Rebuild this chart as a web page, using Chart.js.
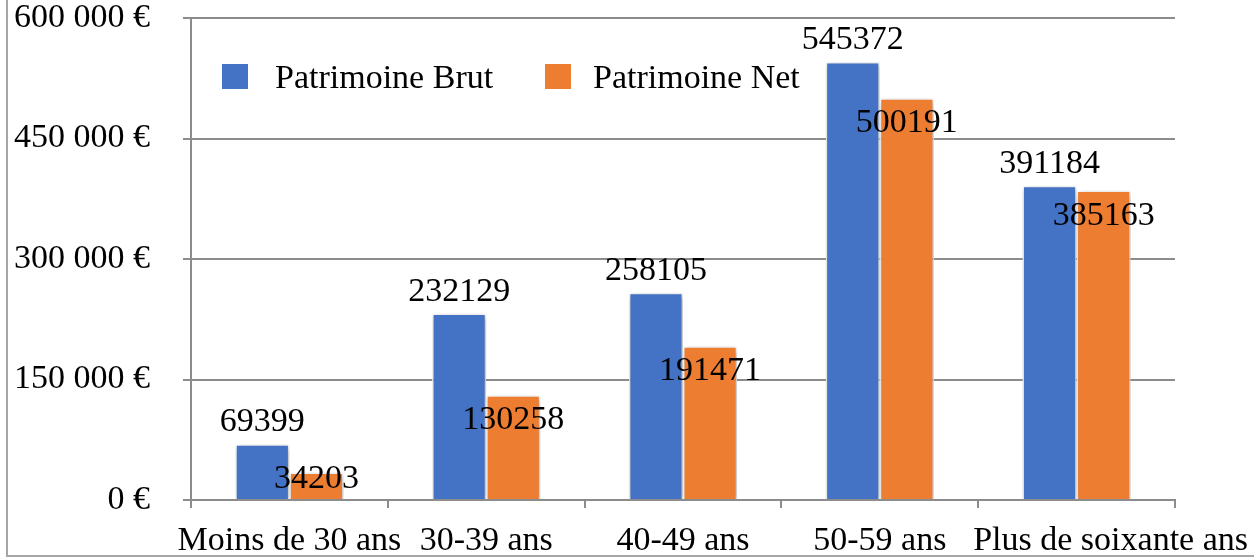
<!DOCTYPE html>
<html>
<head>
<meta charset="utf-8">
<script src="https://cdn.jsdelivr.net/npm/chart.js@4.4.0/dist/chart.umd.min.js"></script>
<style>
  html, body { margin: 0; padding: 0; background: #fff; overflow: hidden; }
  #wrap { position: relative; width: 1254px; height: 559px; }
  #frame { position: absolute; left: 6px; top: -4px; width: 1260px; height: 561px; border: 2px solid #a6a6a6; box-sizing: border-box; }
  canvas { position: absolute; left: 0; top: 0; }
</style>
</head>
<body>
<div id="wrap">
  <div id="frame"></div>
  <canvas id="chart" width="1254" height="559"></canvas>
</div>
<script>
// Patrimoine by age group
const categories = ['Moins de 30 ans', '30-39 ans', '40-49 ans', '50-59 ans', 'Plus de soixante ans'];
const brutValues = [69399, 232129, 258105, 545372, 391184];
const netValues = [34203, 130258, 191471, 500191, 385163];
const seriesNames = ['Patrimoine Brut', 'Patrimoine Net'];
const seriesColors = ['#4472C4', '#ED7D31'];

const FONT = 'Liberation Serif, Times New Roman, serif';
const FONT_SIZE = 34;
const AXIS_GREY = '#8c8c8c';

const fmtEuro = v => String(v).replace(/\B(?=(\d{3})+(?!\d))/g, ' ') + ' €';

// shadow under the bars
const barShadow = {
  id: 'barShadow',
  beforeDatasetsDraw(chart) {
    const ctx = chart.ctx;
    ctx.save();
    ctx.shadowColor = 'rgba(0,0,0,0.35)';
    ctx.shadowBlur = 6;
    ctx.shadowOffsetX = 1;
    ctx.shadowOffsetY = 2;
  },
  afterDatasetsDraw(chart) {
    chart.ctx.restore();
  }
};

// value labels, category labels + legend inside the plot
const labelsAndLegend = {
  id: 'labelsAndLegend',
  afterDraw(chart) {
    const ctx = chart.ctx;
    const xs = chart.scales.x;
    const base = chart.scales.y.getPixelForValue(0);
    ctx.save();
    ctx.font = FONT_SIZE + 'px ' + FONT;
    ctx.fillStyle = '#000';
    ctx.textAlign = 'center';
    ctx.textBaseline = 'alphabetic';
    chart.data.datasets.forEach((ds, di) => {
      chart.getDatasetMeta(di).data.forEach((bar, i) => {
        let yb;
        if (di === 0) yb = bar.y - 13;
        else yb = Math.min(bar.y + 34, base - 12);
        ctx.fillText(String(ds.data[i]), bar.x, yb);
      });
    });

    // category labels; the last one is pushed against the right edge
    categories.forEach((c, i) => {
      if (i === categories.length - 1) {
        ctx.textAlign = 'right';
        ctx.fillText(c, chart.width - 6, base + 50);
        ctx.textAlign = 'center';
      } else {
        ctx.fillText(c, xs.getPixelForTick(i), base + 50);
      }
    });

    // legend
    const items = [{ sq: 222, tx: 275 }, { sq: 545, tx: 593 }];
    ctx.textAlign = 'left';
    items.forEach((it, k) => {
      ctx.fillStyle = seriesColors[k];
      ctx.fillRect(it.sq, 64, 26, 25);
      ctx.fillStyle = '#000';
      ctx.fillText(seriesNames[k], it.tx, 88);
    });
    ctx.restore();
  }
};

new Chart(document.getElementById('chart'), {
  type: 'bar',
  data: {
    labels: categories,
    datasets: [
      { label: seriesNames[0], data: brutValues, backgroundColor: seriesColors[0] },
      { label: seriesNames[1], data: netValues, backgroundColor: seriesColors[1] }
    ]
  },
  options: {
    responsive: false,
    animation: false,
    devicePixelRatio: 1,
    layout: { padding: { left: 0, right: 79, top: 18, bottom: 0 } },
    datasets: {
      bar: {
        categoryPercentage: 0.55,
        barPercentage: 1,
        borderColor: '#ffffff',
        borderWidth: 1.5
      }
    },
    plugins: {
      legend: { display: false },
      tooltip: { enabled: false }
    },
    scales: {
      x: {
        afterFit: s => { s.height = 59; },
        grid: { display: true, drawOnChartArea: false, drawTicks: true, tickLength: 8, color: AXIS_GREY, lineWidth: 2, offset: true },
        border: { display: true, color: AXIS_GREY, width: 2 },
        ticks: { display: false }
      },
      y: {
        min: 0,
        max: 600000,
        afterFit: s => { s.width = 191; s.paddingTop = 0; s.paddingBottom = 0; },
        grid: { color: AXIS_GREY, lineWidth: 2, tickLength: 8 },
        border: { display: true, color: AXIS_GREY, width: 2 },
        ticks: {
          stepSize: 150000,
          color: '#000',
          font: { family: FONT, size: FONT_SIZE },
          padding: 33,
          callback: v => fmtEuro(v)
        }
      }
    }
  },
  plugins: [barShadow, labelsAndLegend]
});
</script>
</body>
</html>
